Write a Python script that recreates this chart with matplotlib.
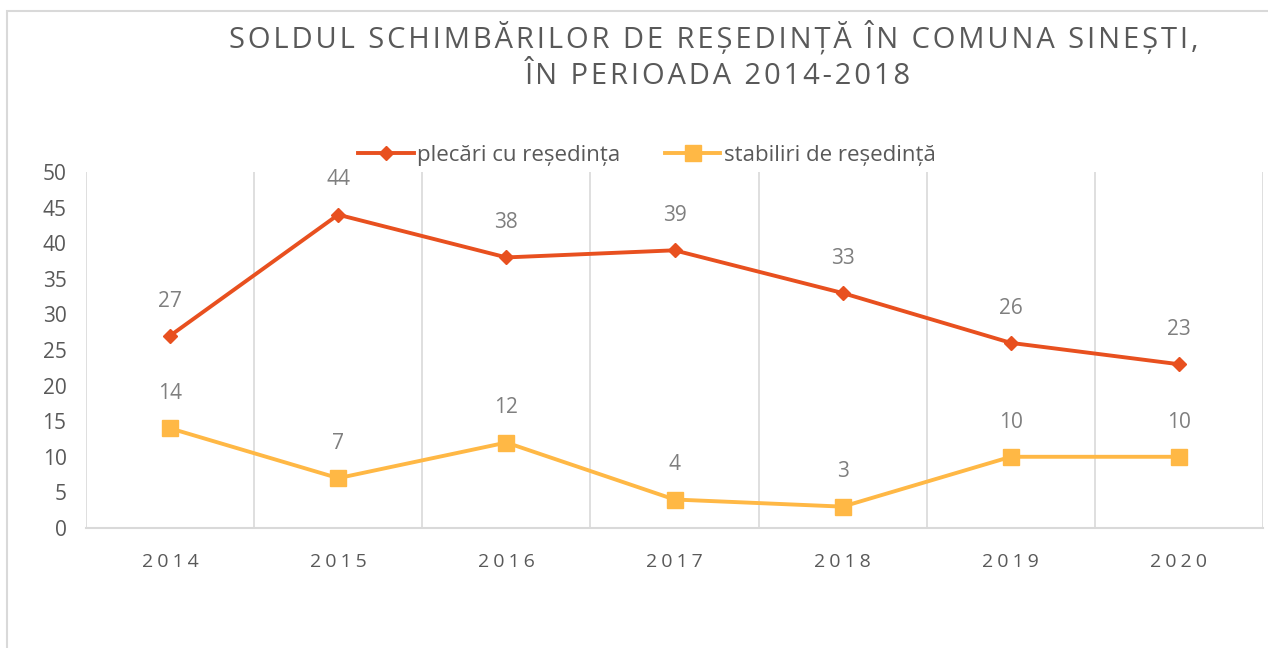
import numpy as np
import matplotlib
matplotlib.use('Agg')
import matplotlib.pyplot as plt
from matplotlib.patches import Rectangle

plt.rcParams['font.family'] = ['Open Sans', 'DejaVu Sans']

# data
years = ['2014', '2015', '2016', '2017', '2018', '2019', '2020']
plecari = [27, 44, 38, 39, 33, 26, 23]
stabiliri = [14, 7, 12, 4, 3, 10, 10]

red = '#E8501F'
yellow = '#FFB845'
grid_col = '#D9D9D9'
hs = '\u200a'

def spaced(s, sep=hs):
    return sep.join(s)

fig = plt.figure(figsize=(12.68, 6.48), dpi=100)
# outer chart frame (cut off at right and bottom)
fig.patches.append(Rectangle((7/1268, -0.1), 2, (648-11)/648 + 0.1,
                             transform=fig.transFigure, fill=False,
                             ec=grid_col, lw=1.5))

ax = fig.add_axes([86/1268, 0.1852, (1263-86)/1268, 0.5494])
x = np.arange(len(years))
l1, = ax.plot(x, plecari, color=red, lw=2.8, marker='D', ms=7.5,
              label='plecări cu reședința')
l2, = ax.plot(x, stabiliri, color=yellow, lw=2.8, marker='s', ms=11,
              label='stabiliri de reședință')

for xi, v in zip(x, plecari):
    ax.annotate(str(v), (xi, v), xytext=(0, 25), textcoords='offset points',
                ha='center', va='center', fontsize=15, color='#7F7F7F')
for xi, v in zip(x, stabiliri):
    ax.annotate(str(v), (xi, v), xytext=(0, 25), textcoords='offset points',
                ha='center', va='center', fontsize=15, color='#7F7F7F')

ax.set_xlim(-0.5, len(years) - 0.5)
ax.set_ylim(0, 50)
ax.set_yticks(np.arange(0, 51, 5))
ax.set_xticks(x)
ax.set_xticklabels([spaced(y, hs + hs) for y in years])
ax.set_xticks(np.arange(-0.5, len(years)), minor=True)
ax.grid(True, axis='x', which='minor', color=grid_col, lw=1.2)
ax.tick_params(axis='both', which='both', length=0)
ax.tick_params(axis='y', labelsize=15, labelcolor='#595959', pad=14)
ax.tick_params(axis='x', labelsize=14, labelcolor='#595959', pad=18)
for s in ['top', 'right', 'left']:
    ax.spines[s].set_visible(False)
ax.spines['bottom'].set_color(grid_col)
ax.spines['bottom'].set_linewidth(1.5)

title1 = 'SOLDUL SCHIMBĂRILOR DE REȘEDINȚĂ ÎN COMUNA SINEȘTI,'
title2 = 'ÎN PERIOADA 2014-2018'
fig.text(714/1268, 1 - 37/648, spaced(title1), ha='center', va='center',
         fontsize=21, color='#595959')
fig.text(718/1268, 1 - 76/648, spaced(title2), ha='center', va='center',
         fontsize=21, color='#595959')

fig.legend(handles=[l1, l2], loc='center', bbox_to_anchor=(647/1268, 1 - 155/648),
           ncol=2, frameon=False, fontsize=16, handlelength=2.5,
           handletextpad=0.15, columnspacing=2.0, labelcolor='#595959')

fig.savefig('out.png', dpi=100)
